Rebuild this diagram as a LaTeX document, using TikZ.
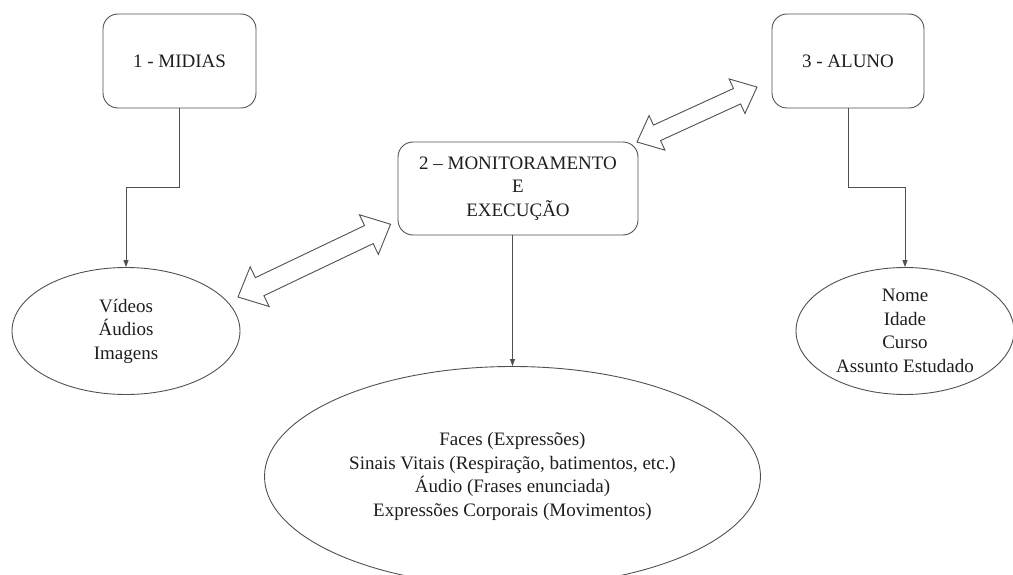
\documentclass[tikz,border=0pt]{standalone}
\usepackage{fontspec}
\setmainfont{Liberation Serif}
\usetikzlibrary{shapes.geometric,arrows.meta,calc}

\definecolor{edge}{HTML}{505050}
\definecolor{ink}{HTML}{1E1E1E}

\tikzset{
  every node/.style={text=ink, font=\fontsize{19}{23.5}\selectfont, align=center},
  roundbox/.style={draw=edge, line width=0.9pt, rounded corners=15pt, inner sep=0pt},
  oval/.style={draw=edge, line width=0.9pt, ellipse, inner sep=0pt},
  conn/.style={draw=edge, line width=0.9pt, -{Triangle[length=7pt,width=5pt]}},
  % hollow two-headed block arrow: length / head length / head half-width / shaft half-width
  pics/dblarrow/.style n args={4}{code={
    \draw[draw=edge, line width=0.9pt, line join=miter, fill=white]
      (0,0) -- (#2,#3) -- (#2,#4) -- (#1-#2,#4) -- (#1-#2,#3) -- (#1,0)
      -- (#1-#2,-#3) -- (#1-#2,-#4) -- (#2,-#4) -- (#2,-#3) -- cycle;
  }}
}

\begin{document}
\begin{tikzpicture}[x=1pt, y=-1pt]
  \useasboundingbox (0,0) rectangle (1013,575);
  \clip (0,0) rectangle (1013,575);

  % boxes
  \node[roundbox, minimum width=153pt, minimum height=94pt] (midias) at (179.5,61) {1 - MIDIAS};
  \node[roundbox, minimum width=240pt, minimum height=93pt] (monit) at (518,188.5)
    {2 – MONITORAMENTO\\E\\EXECUÇÃO};
  \node[roundbox, minimum width=152pt, minimum height=94pt] (aluno) at (848,61) {3 - ALUNO};

  % ellipses
  \node[oval, minimum width=228pt, minimum height=127pt] (media) at (126,331)
    {Vídeos\\Áudios\\Imagens};
  \node[oval, minimum width=218pt, minimum height=127pt] (dados) at (905,331)
    {Nome\\Idade\\Curso\\Assunto Estudado};
  \node[oval, minimum width=496pt, minimum height=220pt] (sinais) at (512.5,476.5)
    {Faces (Expressões)\\Sinais Vitais (Respiração, batimentos, etc.)\\Áudio (Frases enunciada)\\Expressões Corporais (Movimentos)};

  % elbow connectors
  \draw[conn] (midias.south) |- ($(midias.south)!0.5!(media.north)$) -| (media.north);
  \draw[conn] (aluno.south) |- ($(aluno.south)!0.5!(dados.north)$) -| (dados.north);
  \draw[conn] (monit.south -| sinais.north) -- (sinais.north);

  % two-way block arrows
  \pic[rotate=25.5] at (238,297) {dblarrow={169}{24}{22}{10}};
  \pic[rotate=24.6] at (637,142) {dblarrow={132}{22}{19}{8.5}};
\end{tikzpicture}
\end{document}
